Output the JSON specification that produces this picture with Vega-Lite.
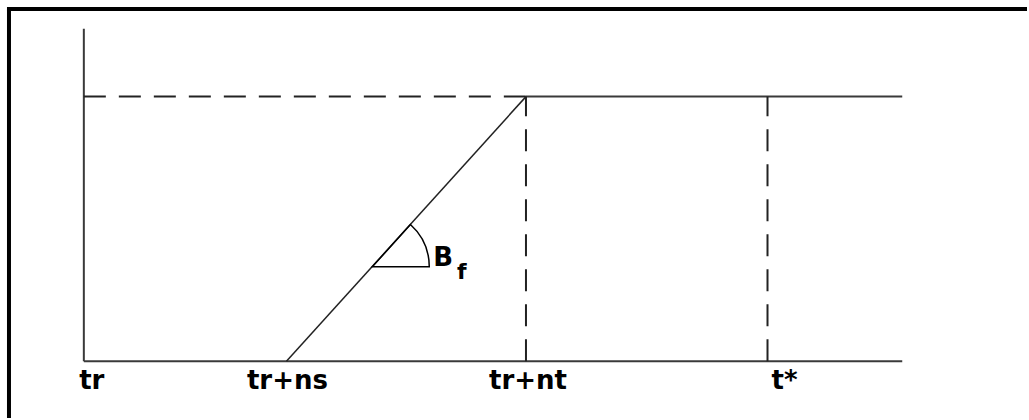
{
  "$schema": "https://vega.github.io/schema/vega-lite/v6.json",
  "width": 1029,
  "height": 420,
  "autosize": {"type": "fit", "contains": "padding"},
  "padding": 0,
  "background": "white",
  "config": {"view": {"stroke": null}},
  "datasets": {
    "frame": [
      {"x": -0.75, "x2": -0.75, "y": -0.214, "y2": 1.331},
      {"x": -0.77, "x2": 9.45, "y": 1.331, "y2": 1.331}
    ],
    "axes": [
      {"x": 0, "x2": 0, "y": 0, "y2": 1.256},
      {"x": 0, "x2": 8.2, "y": 0, "y2": 0},
      {"x": 4.43, "x2": 8.2, "y": 1, "y2": 1}
    ],
    "dashed": [
      {"x": 0, "x2": 4.43, "y": 1, "y2": 1},
      {"x": 4.43, "x2": 4.43, "y": 0, "y2": 1},
      {"x": 6.85, "x2": 6.85, "y": 0, "y2": 1}
    ],
    "diag": [
      {"x": 2.03, "x2": 4.43, "y": 0, "y2": 1}
    ],
    "angle": [
      {"x": 2.89, "y": 0.357}
    ],
    "labels": [
      {"x": 0.08, "y": -0.105, "text": "tr"},
      {"x": 2.04, "y": -0.105, "text": "tr+ns"},
      {"x": 4.45, "y": -0.105, "text": "tr+nt"},
      {"x": 7.02, "y": -0.105, "text": "t*"}
    ],
    "bf": [
      {"x": 3.5, "y": 0.36, "text": "B", "size": "big"},
      {"x": 3.74, "y": 0.31, "text": "f", "size": "small"}
    ]
  },
  "layer": [
    {
      "data": {"name": "frame"},
      "mark": {"type": "rule", "stroke": "black", "strokeWidth": 4},
      "encoding": {
        "x": {"field": "x", "type": "quantitative", "scale": {"domain": [-0.84, 9.45], "nice": false, "zero": false}, "axis": null},
        "x2": {"field": "x2"},
        "y": {"field": "y", "type": "quantitative", "scale": {"domain": [-0.214, 1.365], "nice": false, "zero": false}, "axis": null},
        "y2": {"field": "y2"}
      }
    },
    {
      "data": {"name": "axes"},
      "mark": {"type": "rule", "stroke": "#3a3a3a", "strokeWidth": 2},
      "encoding": {
        "x": {"field": "x", "type": "quantitative"},
        "x2": {"field": "x2"},
        "y": {"field": "y", "type": "quantitative"},
        "y2": {"field": "y2"}
      }
    },
    {
      "data": {"name": "dashed"},
      "mark": {"type": "rule", "stroke": "#222222", "strokeWidth": 2, "strokeDash": [22, 13]},
      "encoding": {
        "x": {"field": "x", "type": "quantitative"},
        "x2": {"field": "x2"},
        "y": {"field": "y", "type": "quantitative"},
        "y2": {"field": "y2"}
      }
    },
    {
      "data": {"name": "diag"},
      "mark": {"type": "rule", "stroke": "#222222", "strokeWidth": 1.5},
      "encoding": {
        "x": {"field": "x", "type": "quantitative"},
        "x2": {"field": "x2"},
        "y": {"field": "y", "type": "quantitative"},
        "y2": {"field": "y2"}
      }
    },
    {
      "data": {"name": "angle"},
      "mark": {"type": "arc", "theta": 0.733, "theta2": 1.5708, "outerRadius": 57, "innerRadius": 0, "fill": null, "fillOpacity": 0, "stroke": "black", "strokeWidth": 1.5},
      "encoding": {
        "x": {"field": "x", "type": "quantitative"},
        "y": {"field": "y", "type": "quantitative"}
      }
    },
    {
      "data": {"name": "labels"},
      "mark": {"type": "text", "font": "DejaVu Sans", "fontWeight": "bold", "fontSize": 26, "align": "center", "baseline": "alphabetic", "color": "black"},
      "encoding": {
        "x": {"field": "x", "type": "quantitative"},
        "y": {"field": "y", "type": "quantitative"},
        "text": {"field": "text"}
      }
    },
    {
      "data": {"name": "bf"},
      "mark": {"type": "text", "font": "DejaVu Sans", "fontWeight": "bold", "align": "left", "baseline": "alphabetic", "color": "black"},
      "encoding": {
        "x": {"field": "x", "type": "quantitative"},
        "y": {"field": "y", "type": "quantitative"},
        "text": {"field": "text"},
        "size": {"field": "size", "type": "nominal", "scale": {"domain": ["big", "small"], "range": [26, 22]}, "legend": null}
      }
    }
  ]
}
